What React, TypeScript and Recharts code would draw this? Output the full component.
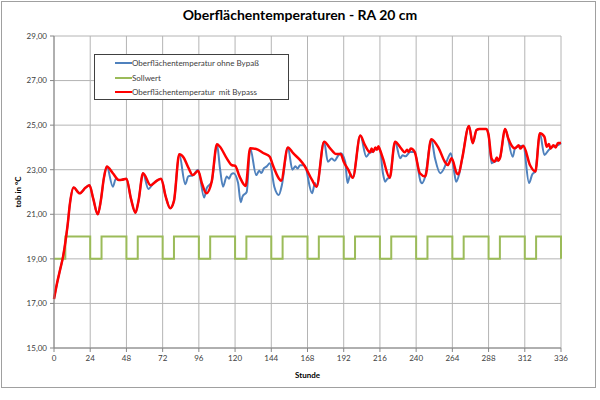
import React from "react";
import {
  LineChart,
  Line,
  XAxis,
  YAxis,
  CartesianGrid,
} from "recharts";

type Pt = [number, number];

const TITLE = "Oberflächentemperaturen - RA 20 cm";
const X_TICKS = [0, 24, 48, 72, 96, 120, 144, 168, 192, 216, 240, 264, 288, 312, 336];
const Y_TICKS = [15, 17, 19, 21, 23, 25, 27, 29];

const NAMES = [
  "Oberflächentemperatur ohne Bypaß",
  "Sollwert",
  "Oberflächentemperatur  mit Bypass",
];

// Sollwert (hour, °C)
const SOLL: Pt[] = [
  [0, 19], [7.5, 19], [7.5, 20], [24, 20], [24, 19], [31.5, 19], [31.5, 20], [48, 20],
  [48, 19], [55.5, 19], [55.5, 20], [72, 20], [72, 19], [79.5, 19], [79.5, 20], [96, 20],
  [96, 19], [103.5, 19], [103.5, 20], [120, 20], [120, 19], [127.5, 19], [127.5, 20], [144, 20],
  [144, 19], [151.5, 19], [151.5, 20], [168, 20], [168, 19], [175.5, 19], [175.5, 20], [192, 20],
  [192, 19], [199.5, 19], [199.5, 20], [216, 20], [216, 19], [223.5, 19], [223.5, 20], [240, 20],
  [240, 19], [247.5, 19], [247.5, 20], [264, 20], [264, 19], [271.5, 19], [271.5, 20], [288, 20],
  [288, 19], [295.5, 19], [295.5, 20], [312, 20], [312, 19], [319.5, 19], [319.5, 20], [336, 20],
  [336, 19],
];

// mit Bypass (hour, °C)
const RED: Pt[] = [
  [0, 17.2], [2, 17.9], [4, 18.5], [6, 19.1], [7, 19.5], [9, 20.5], [10.6, 21.5], [13, 22.2],
  [17, 21.94], [21, 22.2], [23.5, 22.3], [26, 21.7], [29, 21.0], [31, 21.6], [33, 22.6], [35, 23.14],
  [39, 22.84], [43, 22.54], [45, 22.55], [48, 22.6], [51, 21.7], [54, 21.07], [56, 21.6], [59, 22.84],
  [64, 22.3], [68, 22.5], [71, 22.6], [74, 21.8], [77, 21.27], [79.5, 21.6], [83, 23.69], [86, 23.54],
  [89, 23.1], [92, 22.76], [95.5, 22.95], [98, 22.4], [101, 21.94], [104.5, 22.46], [108, 24.14],
  [110, 24.03], [114.5, 23.51], [118, 23.2], [120, 23.18], [123, 22.69], [127, 22.27], [130, 23.96],
  [134, 23.93], [139, 23.74], [143, 23.58], [145, 23.21], [149, 22.61], [150.5, 22.5], [155, 24.0],
  [158.5, 23.74], [163, 23.44], [166, 23.18], [171, 22.54], [174, 22.24], [179, 24.26], [183, 23.96],
  [187, 23.7], [190, 23.7], [192, 23.36], [195, 23.0], [198, 22.64], [203, 24.53], [206, 24.11],
  [209.5, 23.78], [210.5, 23.95], [211.5, 23.8], [213, 24.0], [214, 23.9], [215, 24.05], [216, 23.9],
  [218, 23.51], [222.5, 22.64], [226, 24.26], [230, 23.96], [232.5, 23.78], [234, 23.9], [235, 23.8],
  [236.5, 23.95], [239, 23.8], [242.5, 22.84], [246, 22.7], [250, 24.37], [255, 23.96], [259, 23.36],
  [261, 23.21], [263.5, 23.51], [267, 22.84], [268, 22.8], [270.5, 23.5], [275, 24.96], [277.5, 24.19],
  [280, 24.78], [282, 24.83], [286.5, 24.83], [288, 24.56], [290, 23.5], [292, 23.36], [293.5, 23.55],
  [294.5, 23.4], [295.5, 23.51], [299, 24.83], [301, 24.41], [305.5, 23.96], [308, 24.1], [309, 23.95],
  [311, 24.07], [315.5, 23.2], [319, 22.92], [322, 24.64], [325, 24.48], [326.5, 24.03], [328, 24.15],
  [329, 23.95], [331, 24.1], [332.5, 24.0], [334, 24.2], [336, 24.2],
];

// ohne Bypass (hour, °C)
const BLUE: Pt[] = [
  [0, 17.2], [2, 17.9], [4, 18.5], [6, 19.1], [7, 19.5], [9, 20.5], [10.6, 21.5], [13, 22.2],
  [17, 21.94], [21, 22.2], [23.5, 22.3], [26, 21.7], [29, 21.0], [31, 21.6], [33, 22.6], [35, 23.14],
  [39, 22.24], [41, 22.6], [43, 22.54], [45, 22.55], [48, 22.6], [51, 21.7], [54, 21.07], [56, 21.6],
  [59, 22.84], [62.5, 22.14], [66, 22.4], [68, 22.5], [71, 22.6], [74, 21.8], [77, 21.27], [79.5, 21.6],
  [83, 23.69], [87, 22.35], [89, 22.7], [92, 22.75], [95.5, 23.0], [99.5, 21.75], [101.2, 22.17],
  [104.5, 22.46], [108, 24.14], [110, 23.06], [112, 22.24], [114.5, 22.7], [116, 22.6], [117.5, 22.8],
  [119, 22.84], [122, 22.4], [123.7, 21.54], [125, 21.8], [127.7, 22.0], [130, 23.96], [134, 22.76],
  [136, 22.95], [137.5, 22.85], [139, 23.06], [141, 23.15], [143, 23.29], [146, 22.24], [149, 21.87],
  [151, 22.3], [155, 24.0], [158, 23.0], [160, 23.15], [161.5, 23.05], [163, 23.2], [166, 23.2],
  [171, 21.94], [173, 22.4], [174, 22.24], [179, 24.26], [181.5, 23.36], [184, 23.5], [186, 23.4],
  [188, 23.6], [190, 23.74], [193, 23.36], [194.5, 22.4], [196.5, 22.8], [198, 22.64], [203, 24.53],
  [207, 23.58], [209, 23.75], [211, 23.8], [214, 23.96], [216, 23.9], [218, 22.84], [219.5, 22.46],
  [221, 22.6], [222.5, 22.64], [226, 24.26], [229.5, 23.51], [231, 23.65], [233, 23.6], [236, 23.8],
  [239, 23.8], [243, 22.46], [243.7, 22.39], [246, 22.7], [250, 24.37], [252.5, 23.51], [256, 22.84],
  [258.5, 23.06], [261, 23.51], [263, 23.74], [265, 23.0], [266.5, 22.46], [268.5, 22.8], [270.5, 23.5],
  [275, 24.96], [277.5, 24.19], [280, 24.78], [282, 24.83], [286.5, 24.83], [288, 24.56], [290, 23.29],
  [292, 23.36], [295.5, 23.51], [299, 24.83], [304, 23.58], [305.5, 23.96], [308, 24.05], [311, 24.07],
  [314.8, 22.4], [317, 22.8], [319, 22.92], [322, 24.64], [325, 23.66], [328, 23.9], [331, 24.05],
  [334, 24.1], [336, 24.2],
];

const COLORS = ["#4f81bd", "#9bbb59", "#ff0000"];
const FONT = "Lato, 'Open Sans', sans-serif";
const TXT = "#404040";

const toRows = (pts: Pt[]) => pts.map(([h, v]) => ({ h, v }));
const fmt = (v: number) => v.toFixed(2).replace(".", ",");

function LegendBox() {
  return (
    <div
      style={{
        position: "absolute",
        left: 94,
        top: 54,
        width: 195,
        height: 46,
        background: "#fff",
        border: "1px solid #404040",
        boxSizing: "border-box",
        fontFamily: FONT,
        fontSize: 8,
        color: TXT,
        paddingTop: 1,
      }}
    >
      {NAMES.map((n, i) => (
        <div key={n} style={{ display: "flex", alignItems: "center", height: 14.5, paddingLeft: 20 }}>
          <div style={{ width: 17, height: 2, background: COLORS[i] }} />
          <span style={{ whiteSpace: "pre" }}>{n}</span>
        </div>
      ))}
    </div>
  );
}

export default function App() {
  return (
    <div
      style={{
        position: "fixed",
        left: 0,
        top: 0,
        width: 600,
        height: 400,
        background: "#fff",
      }}
    >
      <div
        style={{
          position: "absolute",
          left: 1,
          top: 1,
          width: 595,
          height: 387,
          border: "1px solid #a0a0a0",
          boxSizing: "border-box",
        }}
      />
      <div
        style={{
          position: "absolute",
          left: 0,
          top: 6,
          width: 600,
          textAlign: "center",
          fontFamily: FONT,
          fontWeight: 700,
          fontSize: 14,
          color: "#000",
        }}
      >
        {TITLE}
      </div>
      <div style={{ position: "absolute", left: 0, top: 0 }}>
        <LineChart width={600} height={400} margin={{ top: 36, right: 39, bottom: 22, left: 0 }}>
          <CartesianGrid stroke="#b4b4b4" />
          <XAxis
            dataKey="h"
            type="number"
            domain={[0, 336]}
            ticks={X_TICKS}
            interval={0}
            height={30}
            stroke="#868686"
            tickSize={4}
            tickMargin={3}
            tick={{ fontSize: 8, fill: TXT, fontFamily: FONT }}
            label={{
              value: "Stunde",
              position: "insideBottom",
              offset: 0,
              style: { fontSize: 8, fontWeight: 700, fill: "#000", fontFamily: FONT },
            }}
          />
          <YAxis
            type="number"
            domain={[15, 29]}
            ticks={Y_TICKS}
            interval={0}
            width={54}
            stroke="#868686"
            tickSize={4}
            tickMargin={3}
            tickFormatter={fmt}
            tick={{ fontSize: 8, fill: TXT, fontFamily: FONT }}
            label={{
              value: "tob in °C",
              angle: -90,
              position: "insideLeft",
              offset: 18,
              style: { fontSize: 8, fontWeight: 700, fill: "#000", fontFamily: FONT, textAnchor: "middle" },
            }}
          />
          <Line
            data={toRows(BLUE)}
            dataKey="v"
            name={NAMES[0]}
            stroke={COLORS[0]}
            strokeWidth={2}
            dot={false}
            type="monotone"
            isAnimationActive={false}
          />
          <Line
            data={toRows(SOLL)}
            dataKey="v"
            name={NAMES[1]}
            stroke={COLORS[1]}
            strokeWidth={2}
            dot={false}
            type="linear"
            isAnimationActive={false}
          />
          <Line
            data={toRows(RED)}
            dataKey="v"
            name={NAMES[2]}
            stroke={COLORS[2]}
            strokeWidth={2.5}
            dot={false}
            type="monotone"
            isAnimationActive={false}
          />
        </LineChart>
      </div>
      <LegendBox />
    </div>
  );
}
